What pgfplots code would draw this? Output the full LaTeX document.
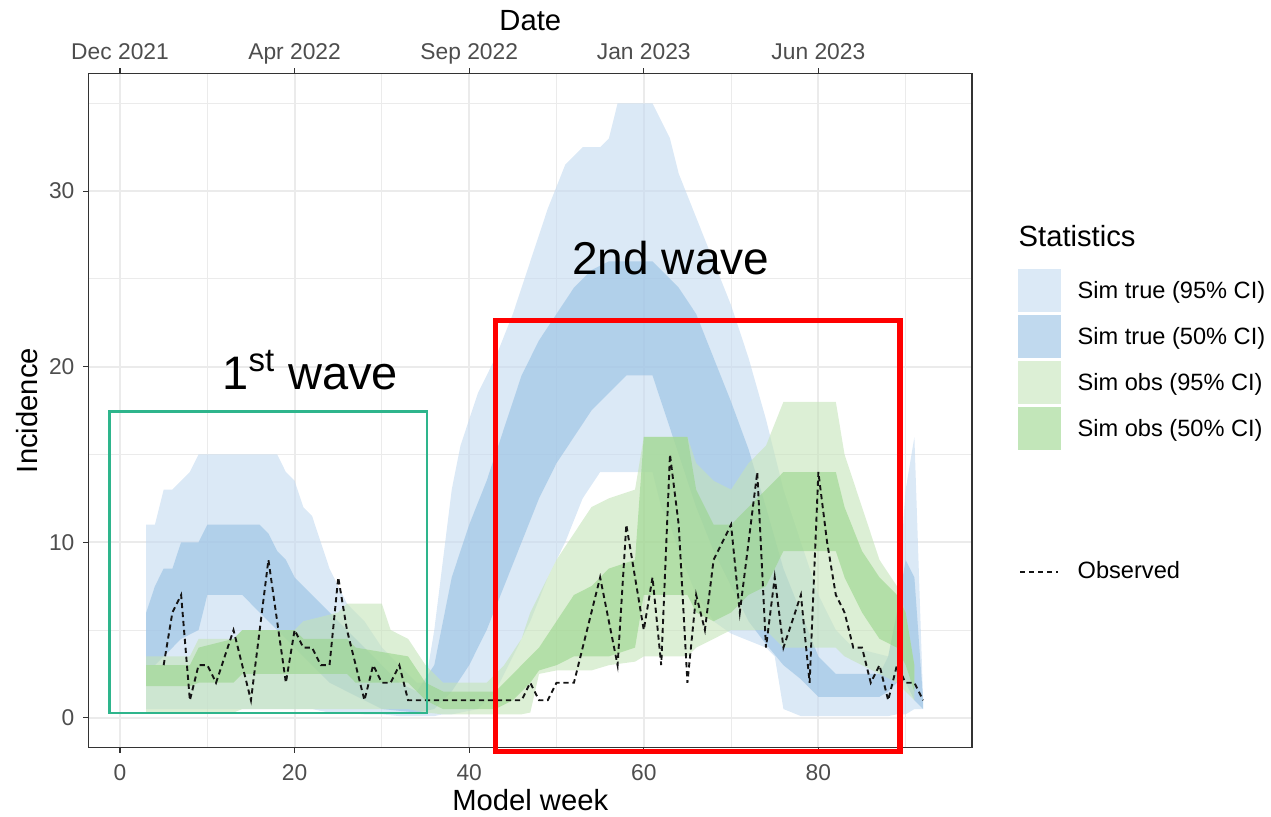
\documentclass[border=0pt]{standalone}
\usepackage{pgfplots}
\pgfplotsset{compat=1.18}
\usepackage{pgfplotstable}
\usepgfplotslibrary{fillbetween}
\usepackage{fontspec}
\setmainfont{Liberation Sans}

\definecolor{cTa}{RGB}{195,218,240}
\definecolor{cTb}{RGB}{150,192,227}
\definecolor{cOa}{RGB}{197,228,185}
\definecolor{cOb}{RGB}{153,213,138}
\definecolor{gridc}{RGB}{235,235,235}
\definecolor{borderc}{RGB}{51,51,51}
\definecolor{tickc}{RGB}{77,77,77}
\definecolor{boxgreen}{RGB}{46,181,140}

% Sim true 95% CI
\pgfplotstableread{
w lo hi
3 0.5 11
4 0.5 11
5 0.5 13
6 0.5 13
7 0.5 13.5
8 0.5 14
9 0.5 15
18 0.5 15
19 0.5 14
20 0.5 13.5
21 0.5 12
22 0.5 11.5
23 0.4 10
24 0.3 8.5
25 0.3 7.5
26 0.3 6.5
28 0.2 5.5
30 0.2 4
32 0.1 3
34 0.1 2
35 0.1 2
36 0.1 5
37 0.2 9
38 0.2 13
39 0.3 15.5
41 0.5 18.5
43 1.5 20.5
45 3.5 23
47 5.5 26
49 8 29
51 10 31.5
53 12.5 32.5
55 14 32.5
56 14 33
57 14 35
61 14 35
62 12 34
63 11 33
64 9.5 31
66 7 28.5
68 5.5 26
70 4.8 23.5
72 4.4 20.5
74 4 17
75 3.5 15
76 0.5 13
78 0.1 10
80 0.1 7
82 0.1 5
84 0.1 4
88 0.1 3.5
89 0.2 6
90 0.2 13
91 0.5 16
92 0.5 1
}\tTa

% Sim true 50% CI
\pgfplotstableread{
w lo hi
3 3 6
4 3 7.5
5 3.5 8.5
6 4 8.5
7 4.5 10
9 5 10
10 7 11
14 7 11
16 6 11
17 5.5 10.5
18 5 9.5
19 4.5 9
20 4 8
22 3 7
24 2 6
26 1.5 5
28 1 4
30 0.5 3
32 0.4 2
34 0.3 1.5
36 0.5 3
37 1 5.5
38 1.5 8
40 3 11
42 5 13.5
44 7.5 16.5
46 10 19.5
48 12.5 21.5
50 14.5 23
52 16 24.5
54 17.5 25.5
56 18.5 26
58 19.5 26
61 19.5 26
62 18 25.5
64 15 24.5
66 12 23
68 9.5 20.5
70 7.5 18
72 5.5 15.3
74 4.2 12
76 3 8.5
78 2.2 6
80 1.2 3.5
82 1.2 2.5
87 1.2 2.5
88 1.5 3.5
89 2 6
90 2 9
91 1 8
92 0.5 1
}\tTb

% Sim obs 95% CI
\pgfplotstableread{
w lo hi
3 0.3 3.5
8 0.3 3.5
9 0.3 4.5
13 0.3 4.5
14 0.5 5
20 0.5 5
21 0.5 5.5
25 0.5 6
26 0.5 6.5
30 0.5 6.5
31 0.5 5
33 0.5 4.5
35 0.3 3
37 0.2 2
42 0.2 2
44 0.2 3
46 0.2 4.5
47 0.3 6
48 2.5 7
50 2.7 9
52 2.7 10.5
54 2.7 12
56 3 12.5
59 3.2 13
60 3.5 16
65 3.5 16
66 4 14.5
68 4.5 13.5
70 5 13
72 5 14.5
74 5 15.5
76 4 18
82 4 18
83 3.5 15
85 3 12
87 2.5 9
89 2 7.5
90 1.5 6
91 1 3
}\tOa

% Sim obs 50% CI
\pgfplotstableread{
w lo hi
3 1.8 3
8 1.8 3
9 2 4
13 2 4.5
14 2.5 5
20 2.5 5
21 2.5 4.5
26 2.5 4.5
27 2 4
33 2 3.5
35 1 2
37 0.5 1.5
43 0.5 1.5
45 1 2.5
47 2 3.5
48 2.7 4
50 3 5.5
52 3.5 7
54 3.5 7.5
56 3.5 8.5
59 4 9
60 7 16
65 7 16
66 6 13
68 5.5 11
70 6 11
72 7 12
74 7.5 13
76 9.5 14
82 9.5 14
83 8 12
85 6 9.5
87 4.5 8
89 4 7
90 3 6
91 1.5 3
}\tOb

% Observed
\pgfplotstableread{
w y
5 3
6 6
7 7
8 1
9 3
10 3
11 2
12 3.5
13 5
14 3
15 1
16 5
17 9
18 5.5
19 2
20 5
21 4
22 4
23 3
24 3
25 8
26 5
27 3
28 1
29 3
30 2
31 2
32 3
33 1
34 1
35 1
36 1
37 1
38 1
39 1
40 1
41 1
42 1
43 1
44 1
45 1
46 1
47 2
48 1
49 1
50 2
51 2
52 2
53 4
54 6
55 8
56 5.5
57 3
58 11
59 8
60 5
61 8
62 3
63 15
64 11
65 2
66 7
67 5
68 9
69 10
70 11
71 6
72 10
73 14
74 4
75 8
76 4
77 5.5
78 7
79 2
80 14
81 10
82 7
83 6
84 4
85 4
86 2
87 3
88 1
89 3
90 2
91 2
92 1
}\tObs

\pgfplotsset{
  swatch/.style={legend image code/.code={\fill[##1] (0pt,-10.75pt) rectangle (21.5pt,10.75pt);}},
  spacer/.style={legend image code/.code={\path[draw=none,fill=none] (0pt,-11.34pt) rectangle (21.5pt,11.34pt);}},
  obsleg/.style={legend image code/.code={\path[draw=none,fill=none] (0pt,-10.75pt) rectangle (21.5pt,10.75pt);\draw[##1] (1pt,0pt) -- (20pt,0pt);}},
}

\begin{document}
\begin{tikzpicture}

% top axis (dates)
\begin{axis}[
  at={(0pt,0pt)}, anchor=south west, scale only axis,
  width=441.7pt, height=337.1pt,
  xmin=-3.6, xmax=97.6, ymin=-1.7, ymax=36.7,
  axis x line*=top, axis y line=none,
  xtick={0,20,40,60,80},
  xticklabels={Dec 2021,Apr 2022,Sep 2022,Jan 2023,Jun 2023},
  tick align=outside, major tick length=2.6pt,
  x axis line style={borderc, line width=0.6pt},
  tick style={borderc, line width=0.6pt},
  xticklabel style={font=\fontsize{11.4}{14}\selectfont, color=tickc, anchor=base, inner sep=0pt, yshift=4.25pt},
  xlabel={Date},
  xlabel style={at={(axis description cs:0.5,1.063)}, anchor=base, font=\fontsize{14.6}{17}\selectfont, inner sep=0pt},
]
\end{axis}

\begin{axis}[
  at={(0pt,0pt)}, anchor=south west, scale only axis,
  width=441.7pt, height=337.1pt,
  xmin=-3.6, xmax=97.6, ymin=-1.7, ymax=36.7,
  clip=false,
  xtick={0,20,40,60,80}, ytick={0,10,20,30},
  minor xtick={10,30,50,70,90}, minor ytick={5,15,25,35},
  xtick pos=left, ytick pos=left,
  tick align=outside, major tick length=2.6pt, minor tick length=0pt,
  grid=both,
  major grid style={gridc, line width=0.9pt},
  minor grid style={gridc, line width=0.45pt},
  axis line style={borderc, line width=0.6pt},
  tick style={borderc, line width=0.6pt},
  /pgf/number format/assume math mode=true,
  tick label style={font=\fontsize{11.4}{14}\selectfont, color=tickc},
  xticklabel style={anchor=base, inner sep=0pt, yshift=-13.8pt},
  yticklabel style={anchor=east, inner sep=0pt, xshift=-4.3pt},
  xlabel={Model week}, ylabel={Incidence},
  xlabel style={at={(axis description cs:0.5,-0.0939)}, anchor=base, font=\fontsize{14.6}{17}\selectfont, inner sep=0pt},
  ylabel style={at={(axis description cs:-0.0573,0.5)}, anchor=base, font=\fontsize{14.6}{17}\selectfont, inner sep=0pt},
  legend style={at={(axis description cs:1.0524,0.7093)}, anchor=north west,
    draw=none, fill=none, inner sep=0pt, outer sep=0pt,
    row sep=1.5pt, column sep=8.2pt,
    nodes={inner sep=0pt},
    font=\fontsize{11.8}{14}\selectfont},
  legend cell align=left,
]
% Sim true 95%
\addplot[name path=tahi, draw=none, forget plot] table[x=w,y=hi] {\tTa};
\addplot[name path=talo, draw=none, forget plot] table[x=w,y=lo] {\tTa};
\addplot[fill=cTa, fill opacity=0.6, draw=none, swatch] fill between[of=tahi and talo];
\addlegendentry{Sim true (95\% CI)}
% Sim true 50%
\addplot[name path=tbhi, draw=none, forget plot] table[x=w,y=hi] {\tTb};
\addplot[name path=tblo, draw=none, forget plot] table[x=w,y=lo] {\tTb};
\addplot[fill=cTb, fill opacity=0.6, draw=none, swatch] fill between[of=tbhi and tblo];
\addlegendentry{Sim true (50\% CI)}
% Sim obs 95%
\addplot[name path=oahi, draw=none, forget plot] table[x=w,y=hi] {\tOa};
\addplot[name path=oalo, draw=none, forget plot] table[x=w,y=lo] {\tOa};
\addplot[fill=cOa, fill opacity=0.6, draw=none, swatch] fill between[of=oahi and oalo];
\addlegendentry{Sim obs (95\% CI)}
% Sim obs 50%
\addplot[name path=obhi, draw=none, forget plot] table[x=w,y=hi] {\tOb};
\addplot[name path=oblo, draw=none, forget plot] table[x=w,y=lo] {\tOb};
\addplot[fill=cOb, fill opacity=0.6, draw=none, swatch] fill between[of=obhi and oblo];
\addlegendentry{Sim obs (50\% CI)}
% spacers in legend
\addlegendimage{spacer, draw=none, fill=none}
\addlegendentry{}
\addlegendimage{spacer, draw=none, fill=none}
\addlegendentry{}
% Observed
\addplot[color={rgb,255:red,20;green,20;blue,20}, line width=0.95pt, dash pattern=on 2.6pt off 1.9pt, obsleg]
  table[x=w,y=y] {\tObs};
\addlegendentry{Observed}

% annotations
\draw[boxgreen, line width=1.15pt] (axis cs:-1.2,0.28) rectangle (axis cs:35.13,17.45);
\draw[red, line width=2.75pt] (axis cs:43.0,-1.92) rectangle (axis cs:89.35,22.62);
\node[anchor=base, inner sep=0pt, font=\fontsize{23}{26}\selectfont] at (axis cs:63.1,25.23) {2nd wave};
\node[anchor=base, inner sep=0pt, font=\fontsize{23.5}{26}\selectfont] at (axis cs:21.8,18.7) {1\textsuperscript{st} wave};
\node[anchor=base west, inner sep=0pt, font=\fontsize{14.6}{17}\selectfont] at (axis description cs:1.0524,0.7427) {Statistics};
\end{axis}

\pgfresetboundingbox
\useasboundingbox (-44.3pt,-34.65pt) rectangle (591.2pt,373.85pt);
\end{tikzpicture}
\end{document}
